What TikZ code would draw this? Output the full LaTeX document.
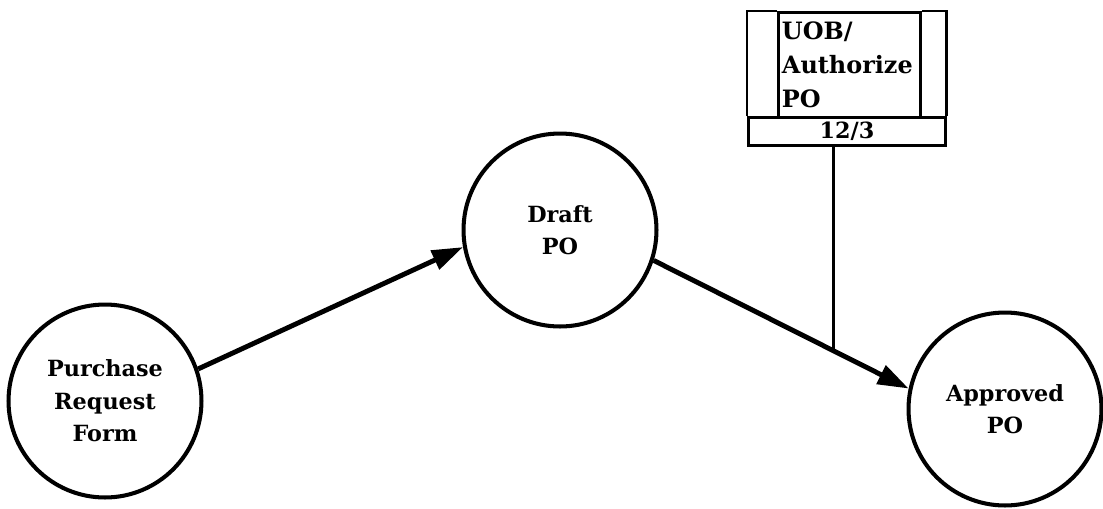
\documentclass[tikz,border=0pt]{standalone}
\usepackage{fontspec}
\setmainfont{DejaVu Serif}
\usetikzlibrary{arrows.meta,calc}

\begin{document}
\begin{tikzpicture}[x=0.02cm, y=-0.02cm,
		bubble/.style={circle, draw, line width=2.3pt, minimum size=3.86cm, inner sep=0pt, align=center},
		flow/.style={line width=2.8pt, -{Triangle[length=0.62cm, width=0.4cm]}},
		frame/.style={draw, line width=1.7pt},
		lbl/.style={font=\bfseries\fontsize{12.7}{18.5}\selectfont}]
			%%%%% START %%%%%
			
			\useasboundingbox (0, 0) rectangle (1103, 508);
			
			\node[bubble, lbl] (req) at (105, 401) {Purchase\\Request\\Form};
			\node[bubble, lbl] (draft) at (560, 230) {Draft\\PO};
			\node[bubble, lbl] (appr) at (1005, 409) {Approved\\PO};
			
			\node[frame, lbl, font=\bfseries\fontsize{13.6}{19.5}\selectfont, minimum width=2.84cm, minimum height=2.1cm, text width=2.7cm, align=left, inner xsep=0.07cm, anchor=north west] (uob) at (777, 11) {UOB/\\Authorize\\PO};
			\node[frame, lbl, minimum width=3.94cm, minimum height=0.56cm, inner sep=0pt, anchor=north west] (num) at (747, 116) {12/3};
			\draw[line width=1.7pt] (num.north west) |- (uob.north west);
			\draw[line width=1.7pt] (num.north east) |- (uob.north east);
			
			\draw[flow] (req.19) -- (draft.190);
			\draw[flow] (draft.-18) -- (appr.168) coordinate[pos=0.706] (join);
			\draw[line width=1.7pt] (num.south -| join) -- (join);
			
			%%%%% END %%%%%
		\end{tikzpicture}
\end{document}
